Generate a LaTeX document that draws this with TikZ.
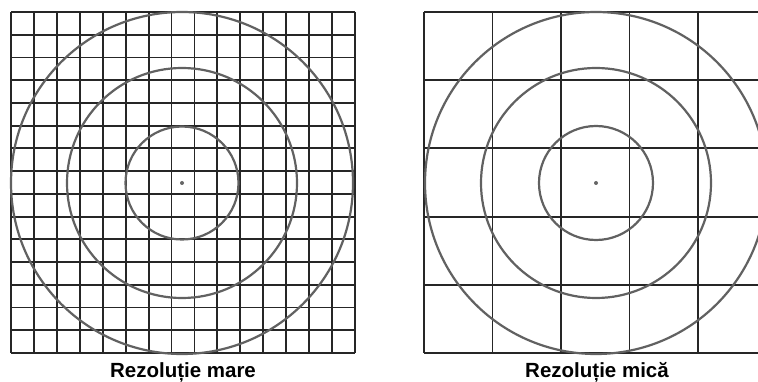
\documentclass[tikz,border=0pt]{standalone}
\usepackage{fontspec}
\setmainfont{Liberation Sans}
\begin{document}
\begin{tikzpicture}[x=1pt,y=-1pt,
  gridline/.style={draw=black!85,line width=1.9pt},
  ring/.style={draw=black!62,line width=2.2pt},
  label/.style={font=\fontsize{20.5}{24}\selectfont\bfseries,text=black,anchor=base}]
\useasboundingbox (0,0) rectangle (758,382);
\clip (0,0) rectangle (758,382);
\fill[white] (0,0) rectangle (758,382);
% left grid: 15x15
\foreach \i in {0,...,15} {
  \draw[gridline] ({11+\i*344/15},12) -- ({11+\i*344/15},353);
  \draw[gridline] (11,{12+\i*341/15}) -- (355,{12+\i*341/15});
}
\coordinate (cl) at (182,183);
\draw[ring] (cl) circle (56.5);
\draw[ring] (cl) circle (115);
\draw[ring] (cl) circle (171);
\fill[black!60] (cl) circle (2);
% right grid: 5x5 (last column cut off)
\foreach \i in {0,...,5} {
  \draw[gridline] ({424+\i*68.5},12) -- ({424+\i*68.5},353);
  \draw[gridline] (424,{12+\i*68.2}) -- (766.5,{12+\i*68.2});
}
\coordinate (cr) at (596,183);
\draw[ring] (cr) circle (57);
\draw[ring] (cr) circle (115);
\draw[ring] (cr) circle (171);
\fill[black!60] (cr) circle (2);
\node[label] (lt) at (183,377) {Rezoluție mare};
\node[label] (rt) at (597,377) {Rezoluție mică};
\end{tikzpicture}
\end{document}
